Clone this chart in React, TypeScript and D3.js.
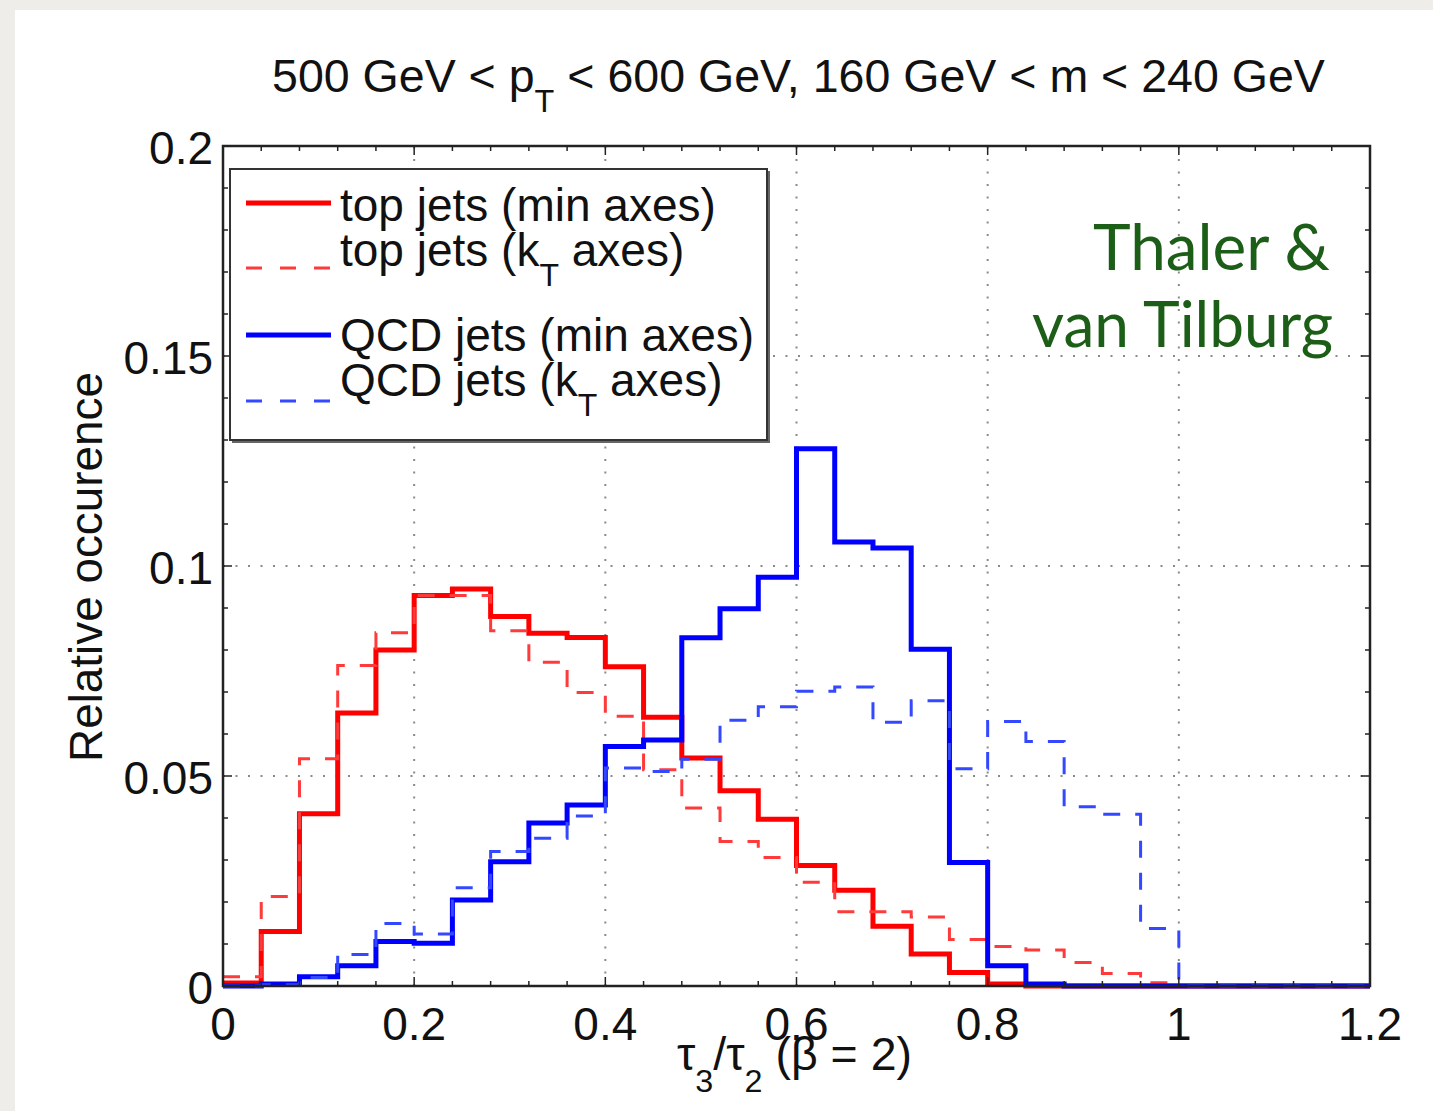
import React, { useLayoutEffect, useRef, useState } from "react";
import * as d3 from "d3";

// Histogram bins: 30 bins of width 0.04 covering tau3/tau2 from 0 to 1.2
const BIN_WIDTH = 0.04;

const topMinAxes = [
  0.0007, 0.013, 0.041, 0.065, 0.080, 0.093, 0.0945, 0.088, 0.084, 0.083,
  0.076, 0.064, 0.0543, 0.0465, 0.0397, 0.0287, 0.0228, 0.0142, 0.0076, 0.0032,
  0.0005, 0, 0, 0, 0, 0, 0, 0, 0, 0,
];
const topKtAxes = [
  0.0022, 0.0213, 0.0541, 0.0763, 0.0841, 0.093, 0.093, 0.0846, 0.0771, 0.0699,
  0.0642, 0.0515, 0.0424, 0.0344, 0.0306, 0.0247, 0.0177, 0.0177, 0.0164, 0.0111,
  0.0094, 0.0086, 0.0056, 0.003, 0.0008, 0, 0, 0, 0, 0,
];
const qcdMinAxes = [
  0, 0.0005, 0.0022, 0.0048, 0.0106, 0.0102, 0.0205, 0.0296, 0.0388, 0.0431,
  0.057, 0.0586, 0.0829, 0.0898, 0.0973, 0.1279, 0.1057, 0.1043, 0.0802, 0.0294,
  0.0048, 0.0005, 0, 0, 0, 0, 0, 0, 0, 0,
];
const qcdKtAxes = [
  0, 0.0003, 0.002, 0.0075, 0.0149, 0.0124, 0.0234, 0.032, 0.0352, 0.0405,
  0.0519, 0.0511, 0.054, 0.0633, 0.0665, 0.0702, 0.0712, 0.0628, 0.0679, 0.0517,
  0.063, 0.0582, 0.0427, 0.0409, 0.0137, 0, 0, 0, 0, 0,
];

const xTicks = [0, 0.2, 0.4, 0.6, 0.8, 1, 1.2];
const xTickLabels = ["0", "0.2", "0.4", "0.6", "0.8", "1", "1.2"];
const yTicks = [0, 0.05, 0.1, 0.15, 0.2];
const yTickLabels = ["0", "0.05", "0.1", "0.15", "0.2"];

const legendLabels = ["top jets (min axes)", "top jets (k", "QCD jets (min axes)", "QCD jets (k"];

const W = 1433;
const H = 1111;
const plot = { left: 223, right: 1370, top: 146, bottom: 986 };
const FONT = "'Liberation Sans', Arial, Helvetica, sans-serif";

const x = d3.scaleLinear().domain([0, 1.2]).range([plot.left, plot.right]);
const y = d3.scaleLinear().domain([0, 0.2]).range([plot.bottom, plot.top]);

const stepLine = d3
  .line<[number, number]>()
  .x((d) => x(d[0]))
  .y((d) => y(d[1]))
  .curve(d3.curveStepAfter);

function histPath(values: number[]): string {
  const pts: [number, number][] = values.map((v, i) => [i * BIN_WIDTH, v]);
  pts.push([values.length * BIN_WIDTH, values[values.length - 1]]);
  return stepLine(pts) || "";
}

type FitProps = {
  x: number;
  y: number;
  width: number;
  anchor?: "start" | "middle" | "end";
  rotate?: number;
  style?: React.CSSProperties;
  children: React.ReactNode;
};

// Text that is stretched horizontally to occupy a given width
function FitText({ x: tx, y: ty, width, anchor = "start", rotate = 0, style, children }: FitProps) {
  const ref = useRef<SVGTextElement>(null);
  const [sx, setSx] = useState(1);
  useLayoutEffect(() => {
    const el = ref.current;
    if (!el) return;
    const w = el.getComputedTextLength();
    if (w > 0) setSx(width / w);
  }, [width]);
  return (
    <g transform={`translate(${tx},${ty}) rotate(${rotate}) scale(${sx},1)`}>
      <text ref={ref} x={0} y={0} textAnchor={anchor} style={style}>
        {children}
      </text>
    </g>
  );
}

const series = [
  { values: topMinAxes, color: "#ff0000", width: 5, dash: undefined as string | undefined },
  { values: topKtAxes, color: "#ff3a3a", width: 3, dash: "17,15" },
  { values: qcdMinAxes, color: "#0000ff", width: 5, dash: undefined as string | undefined },
  { values: qcdKtAxes, color: "#3348ff", width: 3, dash: "17,15" },
];

export default function App() {
  const minorX = d3.range(0, 31).map((i) => i * 0.04);
  const minorY = d3.range(0, 21).map((i) => i * 0.01);
  const gridX = xTicks.slice(1, -1);
  const gridY = yTicks.slice(1, -1);
  const textStyle: React.CSSProperties = { fontFamily: FONT, fontSize: 46, fill: "#111" };
  const subStyle: React.CSSProperties = { fontSize: 32 };

  const legendRows = [
    { y: 203, base: 221, s: series[0] },
    { y: 268, base: 266, s: series[1] },
    { y: 335, base: 351, s: series[2] },
    { y: 401, base: 396, s: series[3] },
  ];

  return (
    <svg
      width={W}
      height={H}
      viewBox={`0 0 ${W} ${H}`}
      style={{ position: "absolute", left: 0, top: 0, display: "block" }}
    >
      <rect x={0} y={0} width={W} height={H} fill="#efede9" />
      <rect x={15} y={10} width={W - 15} height={H - 10} fill="#ffffff" />

      {/* grid */}
      <g stroke="#8a8a8a" strokeWidth={2} strokeDasharray="2,10.5">
        {gridX.map((v) => (
          <line key={`gx${v}`} x1={x(v)} x2={x(v)} y1={plot.bottom} y2={plot.top} />
        ))}
        {gridY.map((v) => (
          <line key={`gy${v}`} x1={plot.left} x2={plot.right} y1={y(v)} y2={y(v)} />
        ))}
      </g>

      {/* histograms */}
      {series.map((s, i) => (
        <path
          key={i}
          d={histPath(s.values)}
          fill="none"
          stroke={s.color}
          strokeWidth={s.width}
          strokeDasharray={s.dash}
          strokeLinejoin="miter"
        />
      ))}

      {/* axes box and inward ticks */}
      <g stroke="#222" strokeWidth={1.5}>
        {minorX.map((v, i) => {
          const len = i % 5 === 0 ? 9 : 5;
          return (
            <g key={`tx${i}`}>
              <line x1={x(v)} x2={x(v)} y1={plot.bottom} y2={plot.bottom - len} />
              <line x1={x(v)} x2={x(v)} y1={plot.top} y2={plot.top + len} />
            </g>
          );
        })}
        {minorY.map((v, i) => {
          const len = i % 5 === 0 ? 9 : 5;
          return (
            <g key={`ty${i}`}>
              <line x1={plot.left} x2={plot.left + len} y1={y(v)} y2={y(v)} />
              <line x1={plot.right} x2={plot.right - len} y1={y(v)} y2={y(v)} />
            </g>
          );
        })}
      </g>
      <rect
        x={plot.left}
        y={plot.top}
        width={plot.right - plot.left}
        height={plot.bottom - plot.top}
        fill="none"
        stroke="#222"
        strokeWidth={2.5}
      />

      {/* tick labels */}
      {xTicks.map((v, i) => (
        <text key={`xl${i}`} x={x(v)} y={1040} textAnchor="middle" style={textStyle}>
          {xTickLabels[i]}
        </text>
      ))}
      {yTicks.map((v, i) => (
        <text key={`yl${i}`} x={213} y={y(v) + 18} textAnchor="end" style={textStyle}>
          {yTickLabels[i]}
        </text>
      ))}

      {/* legend */}
      <rect x={232} y={171} width={538} height={272} fill="#666" />
      <rect x={230} y={169} width={537} height={271} fill="#fff" stroke="#333" strokeWidth={2} />
      {legendRows.map((r, i) => (
        <g key={`lg${i}`}>
          <line
            x1={246}
            x2={331}
            y1={r.y}
            y2={r.y}
            stroke={r.s.color}
            strokeWidth={r.s.width}
            strokeDasharray={r.s.dash ? "16,18" : undefined}
          />
          <text x={340} y={r.base} style={textStyle}>
            {legendLabels[i]}
            {i % 2 === 1 && (
              <>
                <tspan dy={20} style={subStyle}>T</tspan>
                <tspan dy={-20}> axes)</tspan>
              </>
            )}
          </text>
        </g>
      ))}

      {/* title */}
      <FitText x={272} y={92} width={1053} style={textStyle}>
        500 GeV &lt; p
        <tspan dy={20} style={subStyle}>T</tspan>
        <tspan dy={-20}> &lt; 600 GeV, 160 GeV &lt; m &lt; 240 GeV</tspan>
      </FitText>

      {/* axis labels */}
      <FitText x={102} y={567} width={390} anchor="middle" rotate={-90} style={textStyle}>
        Relative occurence
      </FitText>
      <FitText x={677} y={1070} width={235} style={textStyle}>
        τ<tspan dy={22} style={subStyle}>3</tspan>
        <tspan dy={-22}>/τ</tspan>
        <tspan dy={22} style={subStyle}>2</tspan>
        <tspan dy={-22}> (β = 2)</tspan>
      </FitText>

      {/* attribution */}
      <FitText
        x={1330}
        y={270}
        width={237}
        anchor="end"
        style={{ fontFamily: "Lato, 'Noto Sans', sans-serif", fontSize: 64, fill: "#1c5e17" }}
      >
        Thaler &amp;
      </FitText>
      <FitText
        x={1333}
        y={347}
        width={301}
        anchor="end"
        style={{ fontFamily: "Lato, 'Noto Sans', sans-serif", fontSize: 64, fill: "#1c5e17" }}
      >
        van Tilburg
      </FitText>
    </svg>
  );
}
